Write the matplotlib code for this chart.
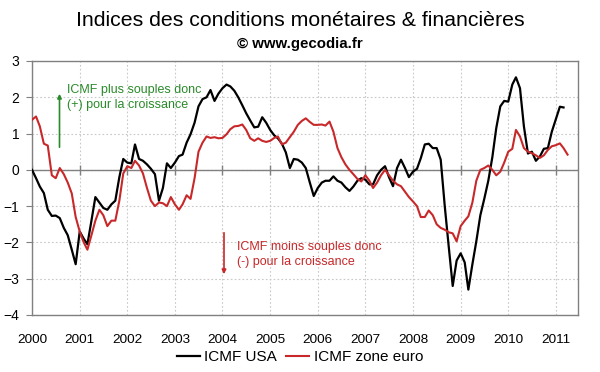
import matplotlib
matplotlib.use('Agg')
import matplotlib.pyplot as plt
import numpy as np
import pandas as pd

plt.rcParams['font.family'] = ['Liberation Sans', 'DejaVu Sans']

# monthly data, Jan 2000 -> Apr 2011
dates = pd.date_range('2000-01-01', periods=136, freq='MS')

usa = [0.0, -0.23, -0.46, -0.64, -1.1, -1.27, -1.26, -1.33, -1.6, -1.8, -2.2, -2.6,
       -1.7, -1.9, -2.05, -1.4, -0.75, -0.9, -1.05, -1.1, -0.95, -0.85, -0.2, 0.3,
       0.2, 0.18, 0.7, 0.3, 0.25, 0.15, 0.03, -0.12, -0.85, -0.5, 0.18, 0.05,
       0.2, 0.38, 0.42, 0.75, 0.98, 1.3, 1.75, 1.95, 2.0, 2.2, 1.9, 2.1,
       2.25, 2.35, 2.3, 2.18, 2.0, 1.78, 1.56, 1.36, 1.17, 1.19, 1.45, 1.3,
       1.1, 0.95, 0.87, 0.72, 0.48, 0.05, 0.3, 0.28, 0.2, 0.05, -0.35, -0.72,
       -0.5, -0.35, -0.3, -0.3, -0.18, -0.3, -0.35, -0.48, -0.58, -0.46, -0.3, -0.23,
       -0.27, -0.4, -0.4, -0.15, 0.0, 0.1, -0.2, -0.45, 0.05, 0.28, 0.05, -0.2,
       -0.05, 0.03, 0.32, 0.7, 0.72, 0.6, 0.6, 0.28, -1.0, -2.1, -3.2, -2.5,
       -2.3, -2.55, -3.3, -2.6, -1.97, -1.25, -0.8, -0.3, 0.35, 1.15, 1.75, 1.9,
       1.88, 2.35, 2.55, 2.25, 1.2, 0.45, 0.5, 0.25, 0.37, 0.58, 0.6, 1.05,
       1.4, 1.74, 1.72, np.nan]

euro = [1.38, 1.47, 1.2, 0.72, 0.67, -0.15, -0.23, 0.05, -0.12, -0.35, -0.65, -1.3,
        -1.7, -2.0, -2.2, -1.8, -1.4, -1.1, -1.25, -1.55, -1.4, -1.4, -0.85, -0.1,
        0.1, 0.05, 0.25, 0.12, -0.1, -0.5, -0.85, -1.0, -0.9, -0.92, -1.0, -0.75,
        -0.95, -1.1, -0.95, -0.7, -0.8, -0.23, 0.5, 0.75, 0.92, 0.88, 0.9, 0.87,
        0.88, 0.98, 1.12, 1.2, 1.21, 1.25, 1.1, 0.87, 0.8, 0.87, 0.8, 0.77,
        0.8, 0.88, 0.92, 0.7, 0.75, 0.9, 1.05, 1.24, 1.35, 1.42, 1.32, 1.24,
        1.24, 1.25, 1.22, 1.33, 1.05, 0.6, 0.35, 0.15, 0.0, -0.12, -0.25, -0.32,
        -0.15, -0.3, -0.5, -0.35, -0.15, 0.0, -0.15, -0.3, -0.4, -0.45, -0.6, -0.75,
        -0.87, -1.0, -1.3, -1.3, -1.12, -1.25, -1.5, -1.6, -1.65, -1.72, -1.75, -1.97,
        -1.55, -1.4, -1.28, -0.9, -0.3, 0.0, 0.05, 0.12, 0.0, -0.15, -0.05, 0.2,
        0.5, 0.58, 1.1, 0.92, 0.6, 0.5, 0.46, 0.4, 0.33, 0.4, 0.55, 0.65,
        0.68, 0.73, 0.6, 0.42]

years = list(range(2000, 2012))
yticks = [3, 2, 1, 0, -1, -2, -3, -4]

red = '#c8282a'
green = '#2a8a2a'
grey = '#808080'

fig = plt.figure(figsize=(6, 3.72), dpi=100)
ax = fig.add_axes([32/600, 1 - 315/372, 546/600, 254/372])

ax.plot(dates, usa, color='black', lw=1.6, label='ICMF USA', zorder=3)
ax.plot(dates, euro, color=red, lw=1.5, label='ICMF zone euro', zorder=3)

xt = [pd.Timestamp(f'{y}-01-01') for y in years]
ax.set_xlim(pd.Timestamp('2000-01-01'), pd.Timestamp('2011-06-20'))
ax.set_ylim(-4, 3)
ax.set_xticks(xt)
ax.set_xticklabels([str(y) for y in years])
ax.set_yticks(yticks)
ax.tick_params(axis='x', length=0, pad=14, labelsize=9.7)
ax.tick_params(axis='y', length=4, color=grey, labelsize=10, pad=5)
ax.set_axisbelow(True)
ax.grid(True, color='#c8c8c8', ls=(0, (1.5, 2)), lw=0.8)
ax.axhline(0, color=grey, lw=1.0, zorder=2)
# tick marks along the zero line
ax.plot(xt, [0] * len(xt), ls='none', marker='|', ms=7, mew=1, color=grey, zorder=2)
for s in ax.spines.values():
    s.set_color(grey)
    s.set_linewidth(1.0)

fig.text(0.5, 1 - 20/372, 'Indices des conditions monétaires & financières',
         ha='center', va='center', fontsize=15.3)
fig.text(0.5, 1 - 44/372, '© www.gecodia.fr', ha='center', va='center',
         fontsize=10.8, fontweight='bold')

# annotations
fig.text(67/600, 1 - 97.5/372, 'ICMF plus souples donc\n(+) pour la croissance',
         ha='left', va='center', color=green, fontsize=9, linespacing=1.3)
ax.annotate('', xy=(59.5/600, 1 - 91/372), xytext=(59.5/600, 1 - 150/372),
            xycoords='figure fraction', textcoords='figure fraction',
            arrowprops=dict(arrowstyle='-|>', color=green, lw=1.2, mutation_scale=6))
fig.text(237/600, 1 - 254.5/372, 'ICMF moins souples donc\n(-) pour la croissance',
         ha='left', va='center', color=red, fontsize=9, linespacing=1.3)
ax.annotate('', xy=(224/600, 1 - 277/372), xytext=(224/600, 1 - 230/372),
            xycoords='figure fraction', textcoords='figure fraction',
            arrowprops=dict(arrowstyle='-|>', color=red, lw=1.2, mutation_scale=6))

fig.legend(loc='center', bbox_to_anchor=(0.5, 1 - 357/372), ncol=2, frameon=False,
           fontsize=11, handlelength=1.5, handletextpad=0.3, columnspacing=0.6)

fig.savefig('out.png', dpi=100)
